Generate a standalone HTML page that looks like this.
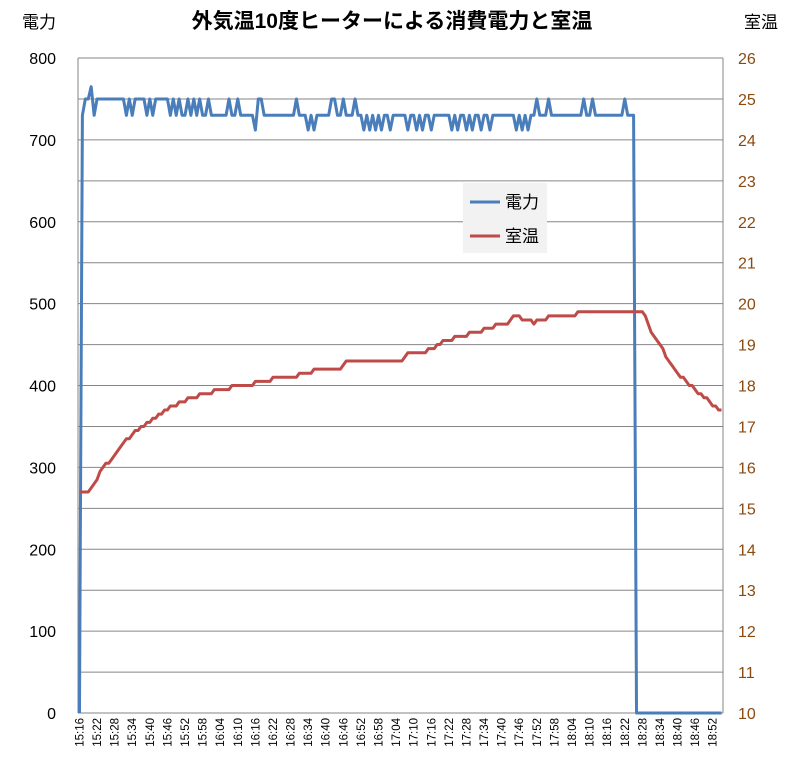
<!DOCTYPE html>
<html><head><meta charset="utf-8"><style>
body{margin:0;background:#fff;}
svg text{font-family:"Liberation Sans","Noto Sans CJK JP",sans-serif;}
</style></head><body>
<svg id="chart" width="800" height="760" viewBox="0 0 800 760" xmlns="http://www.w3.org/2000/svg">
<rect x="0" y="0" width="800" height="760" fill="#fff"/>
<text x="392" y="28" text-anchor="middle" font-size="21" font-weight="bold" fill="#000">外気温10度ヒーターによる消費電力と室温</text>
<text x="22" y="28" font-size="17" fill="#000">電力</text>
<text x="744" y="28" font-size="17" fill="#000">室温</text>
<g id="grid"></g>
<g id="axes"></g>
<g id="series"></g>
<g>
<rect x="463" y="183" width="84" height="70" fill="#f2f2f2"/>
<line x1="470" y1="202" x2="500" y2="202" stroke="#4a7ebb" stroke-width="3"/>
<text x="505" y="208" font-size="17" fill="#000">電力</text>
<line x1="470" y1="236" x2="500" y2="236" stroke="#be4b48" stroke-width="3"/>
<text x="505" y="242" font-size="17" fill="#000">室温</text>
</g>
</svg>
<script>
const power = [0,730,750,750,765,730,750,750,750,750,750,750,750,750,750,750,
730,750,730,750,750,750,750,730,750,730,750,750,750,750,750,
730,750,730,750,730,730,750,730,750,730,750,730,730,750,
730,730,730,730,730,730,750,730,730,750,730,730,730,730,730,
712,750,750,730,730,730,730,730,730,730,730,730,730,730,
750,730,730,730,712,730,712,730,730,730,730,730,
750,750,730,730,750,730,730,730,750,730,730,
712,730,712,730,712,730,712,730,730,712,
730,730,730,730,730,
712,730,730,712,730,712,730,730,712,
730,730,730,730,730,730,
712,730,712,730,730,712,730,712,730,730,712,730,730,712,
730,730,730,730,730,730,730,730,
712,730,712,730,712,730,730,750,
730,730,730,750,
730,730,730,730,730,730,730,730,730,730,730,
750,730,730,750,
730,730,730,730,730,730,730,730,730,730,
750,730,730,730,
0,0,0,0,0,0,0,0,0,0,0,0,0,0,0,0,0,0,0,0,0,0,0,0,0,0,0,0,0,0];
const temp = [15.4,15.4,15.4,15.4,15.5,15.6,15.7,15.9,16.0,16.1,16.1,16.2,16.3,16.4,16.5,16.6,16.7,16.7,16.8,16.9,16.9,
17.0,17.0,17.1,17.1,17.2,17.2,17.3,17.3,17.4,17.4,17.5,17.5,17.5,17.6,17.6,17.6,
17.7,17.7,17.7,17.7,17.8,17.8,17.8,17.8,17.8,17.9,17.9,17.9,17.9,17.9,17.9,
18.0,18.0,18.0,18.0,18.0,18.0,18.0,18.0,18.1,18.1,18.1,18.1,18.1,18.1,
18.2,18.2,18.2,18.2,18.2,18.2,18.2,18.2,18.2,18.3,18.3,18.3,18.3,18.3,
18.4,18.4,18.4,18.4,18.4,18.4,18.4,18.4,18.4,18.4,18.5,
18.6,18.6,18.6,18.6,18.6,18.6,18.6,18.6,18.6,18.6,18.6,18.6,18.6,18.6,18.6,18.6,18.6,18.6,18.6,18.6,
18.7,18.8,18.8,18.8,18.8,18.8,18.8,18.8,18.9,18.9,18.9,19.0,19.0,
19.1,19.1,19.1,19.1,19.2,19.2,19.2,19.2,19.2,19.3,19.3,19.3,19.3,19.3,
19.4,19.4,19.4,19.4,19.5,19.5,19.5,19.5,19.5,19.6,19.7,19.7,19.7,
19.6,19.6,19.6,19.6,19.5,19.6,19.6,19.6,19.6,
19.7,19.7,19.7,19.7,19.7,19.7,19.7,19.7,19.7,19.7,
19.8,19.8,19.8,19.8,19.8,19.8,19.8,19.8,19.8,19.8,19.8,19.8,19.8,19.8,19.8,19.8,19.8,19.8,19.8,19.8,19.8,19.8,19.8,
19.7,19.5,19.3,19.2,19.1,19.0,18.9,18.7,18.6,18.5,18.4,18.3,18.2,18.2,18.1,18.0,18.0,17.9,17.8,17.8,17.7,17.7,17.6,17.5,17.5,17.4,17.4];
const xLabels = ["15:16","15:22","15:28","15:34","15:40","15:46","15:52","15:58","16:04","16:10","16:16","16:22","16:28","16:34","16:40","16:46","16:52","16:58","17:04","17:10","17:16","17:22","17:28","17:34","17:40","17:46","17:52","17:58","18:04","18:10","18:16","18:22","18:28","18:34","18:40","18:46","18:52"];
const leftTicks = [0,100,200,300,400,500,600,700,800];
const rightTicks = [10,11,12,13,14,15,16,17,18,19,20,21,22,23,24,25,26];

const NS="http://www.w3.org/2000/svg";
const L=78,R=723,T=58,B=713;
const N=Math.max(power.length,temp.length);
const band=(R-L)/N;
const x=i=>L+(i+0.5)*band;
const yP=v=>B-(v/800)*(B-T);
const yT=v=>B-((v-10)/16)*(B-T);
function mk(tag,attrs,parent){const e=document.createElementNS(NS,tag);for(const k in attrs)e.setAttribute(k,attrs[k]);parent.appendChild(e);return e;}
const grid=document.getElementById('grid'),axes=document.getElementById('axes'),series=document.getElementById('series');
rightTicks.forEach(t=>{
  const g=mk('line',{x1:L,x2:R,y1:yT(t),y2:yT(t),stroke:'#868686','stroke-width':1},grid);
  
  
  const tx=mk('text',{x:738,y:yT(t)+6,'font-size':16,fill:'#8a4a0f'},axes);
  tx.textContent=t;
  
  
});
leftTicks.forEach(t=>{
  const tx=mk('text',{x:56,y:yP(t)+6,'font-size':16,fill:'#000','text-anchor':'end'},axes);
  tx.textContent=t;
  
  
});
const la=mk('line',{x1:L,x2:L,y1:T,y2:B,stroke:'#868686','stroke-width':1},axes);


const ra=mk('line',{x1:R,x2:R,y1:T,y2:B,stroke:'#868686','stroke-width':1},axes);


xLabels.forEach((s,k)=>{
  const xx=x(k*6);
  const tx=mk('text',{x:0,y:0,'font-size':11.5,fill:'#000','text-anchor':'end',transform:`translate(${xx+4},718) rotate(-90)`},axes);
  tx.textContent=s;
  
  
});
const pp=power.map((v,i)=>x(i).toFixed(2)+','+yP(v).toFixed(2)).join(' ');
const pl=mk('polyline',{points:pp,fill:'none',stroke:'#4a7ebb','stroke-width':3,'stroke-linejoin':'round'},series);


const tp=temp.map((v,i)=>x(i).toFixed(2)+','+yT(v).toFixed(2)).join(' ');
const tl=mk('polyline',{points:tp,fill:'none',stroke:'#be4b48','stroke-width':3,'stroke-linejoin':'round'},series);


</script>
</body></html>
